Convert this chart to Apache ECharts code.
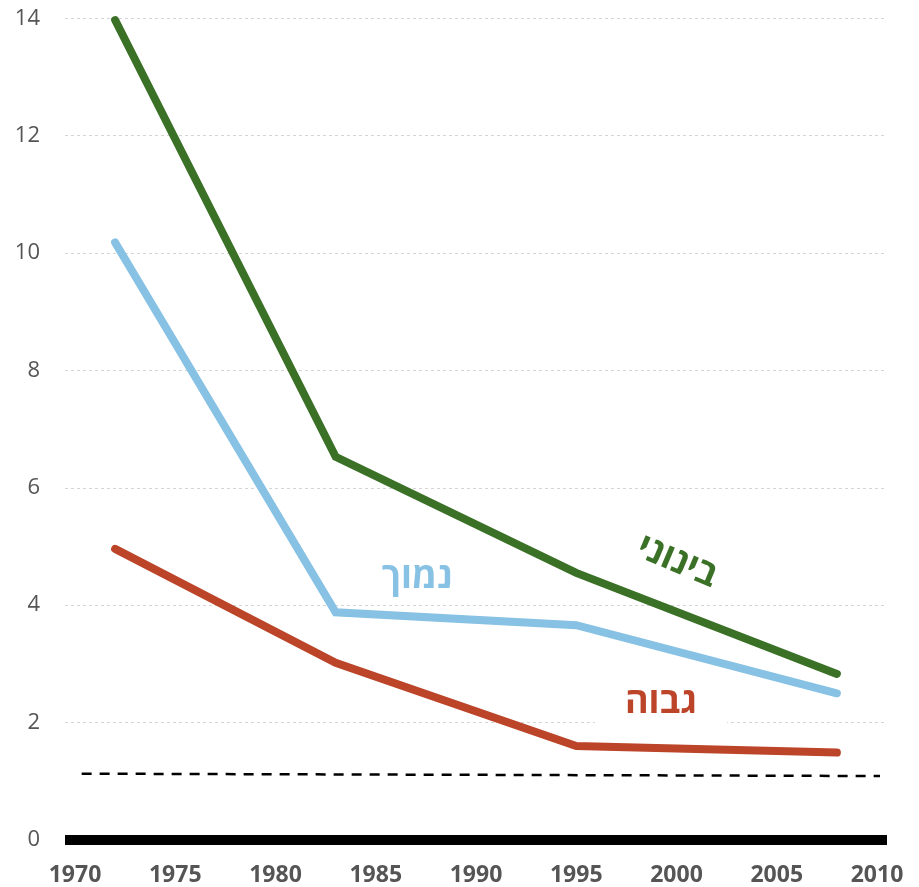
<!DOCTYPE html>
<html>
<head>
<meta charset="utf-8">
<script src="https://cdn.jsdelivr.net/npm/echarts@6/dist/echarts.min.js"></script>
<style>
html,body{margin:0;padding:0;background:#fff;}
#c{width:919px;height:887px;}
</style>
</head>
<body>
<div id="c"></div>
<script>
const years = [1972, 1983, 1995, 2008];
const medium = [13.97, 6.53, 4.55, 2.83];
const low = [10.18, 3.88, 3.66, 2.50];
const high = [4.96, 3.02, 1.60, 1.49];
const refYears = [1970.33, 2010.15];
const refValues = [1.13, 1.09];
const xTicks = [1970, 1975, 1980, 1985, 1990, 1995, 2000, 2005, 2010];
const labelMedium = 'בינוני';
const labelLow = 'נמוך';
const labelHigh = 'גבוה';

const FONT = '"Open Sans", "Noto Sans", "DejaVu Sans", sans-serif';
const zip = (xs, ys) => xs.map((x, i) => [x, ys[i]]);

const chart = echarts.init(document.getElementById('c'), null, {renderer: 'canvas'});
function lineSeries(name, data, color) {
  return {
    name, type: 'line', data: zip(years, data), symbol: 'none', smooth: false,
    lineStyle: {color, width: 8, cap: 'round', join: 'miter'}, z: 3, silent: true
  };
}
chart.setOption({
  animation: false,
  backgroundColor: '#fff',
  grid: {left: 65, right: 32, top: 18.3, bottom: 47},
  xAxis: {
    type: 'value', min: 1969.5, max: 2010.5,
    axisLine: {show: true, lineStyle: {color: '#000', width: 10, cap: 'butt'}},
    axisTick: {show: false},
    splitLine: {show: false},
    axisLabel: {
      customValues: xTicks, margin: 24, formatter: v => String(v),
      color: '#555', fontSize: 23, fontWeight: 'bold', fontFamily: FONT
    }
  },
  yAxis: {
    type: 'value', min: 0, max: 14, interval: 2,
    axisLine: {show: false}, axisTick: {show: false},
    splitLine: {show: true, lineStyle: {color: '#d4d4d4', width: 1, type: [3, 3]}},
    axisLabel: {margin: 25, color: '#555', fontSize: 22, fontFamily: FONT}
  },
  series: [
    {
      name: 'ref', type: 'line', data: zip(refYears, refValues), symbol: 'none',
      lineStyle: {color: '#000', width: 2.5, type: [10, 8]}, z: 2, silent: true
    },
    lineSeries('high', high, '#bb4429'),
    lineSeries('low', low, '#87c1e3'),
    lineSeries('medium', medium, '#3b7127')
  ],
  graphic: [
    {type: 'text', x: 677, y: 562, rotation: -0.4, z: 100,
      style: {text: labelMedium, fill: '#3b7127', font: 'bold 36px ' + FONT, align: 'center', verticalAlign: 'middle'}},
    {type: 'text', x: 417, y: 578, z: 100,
      style: {text: labelLow, fill: '#87c1e3', font: 'bold 36px ' + FONT, align: 'center', verticalAlign: 'middle'}},
    {type: 'text', x: 661, y: 703, z: 100,
      style: {text: labelHigh, fill: '#bb4429', font: 'bold 36px ' + FONT, align: 'center', verticalAlign: 'middle',
        backgroundColor: '#fff', padding: [6, 30]}}
  ]
});
</script>
</body>
</html>
